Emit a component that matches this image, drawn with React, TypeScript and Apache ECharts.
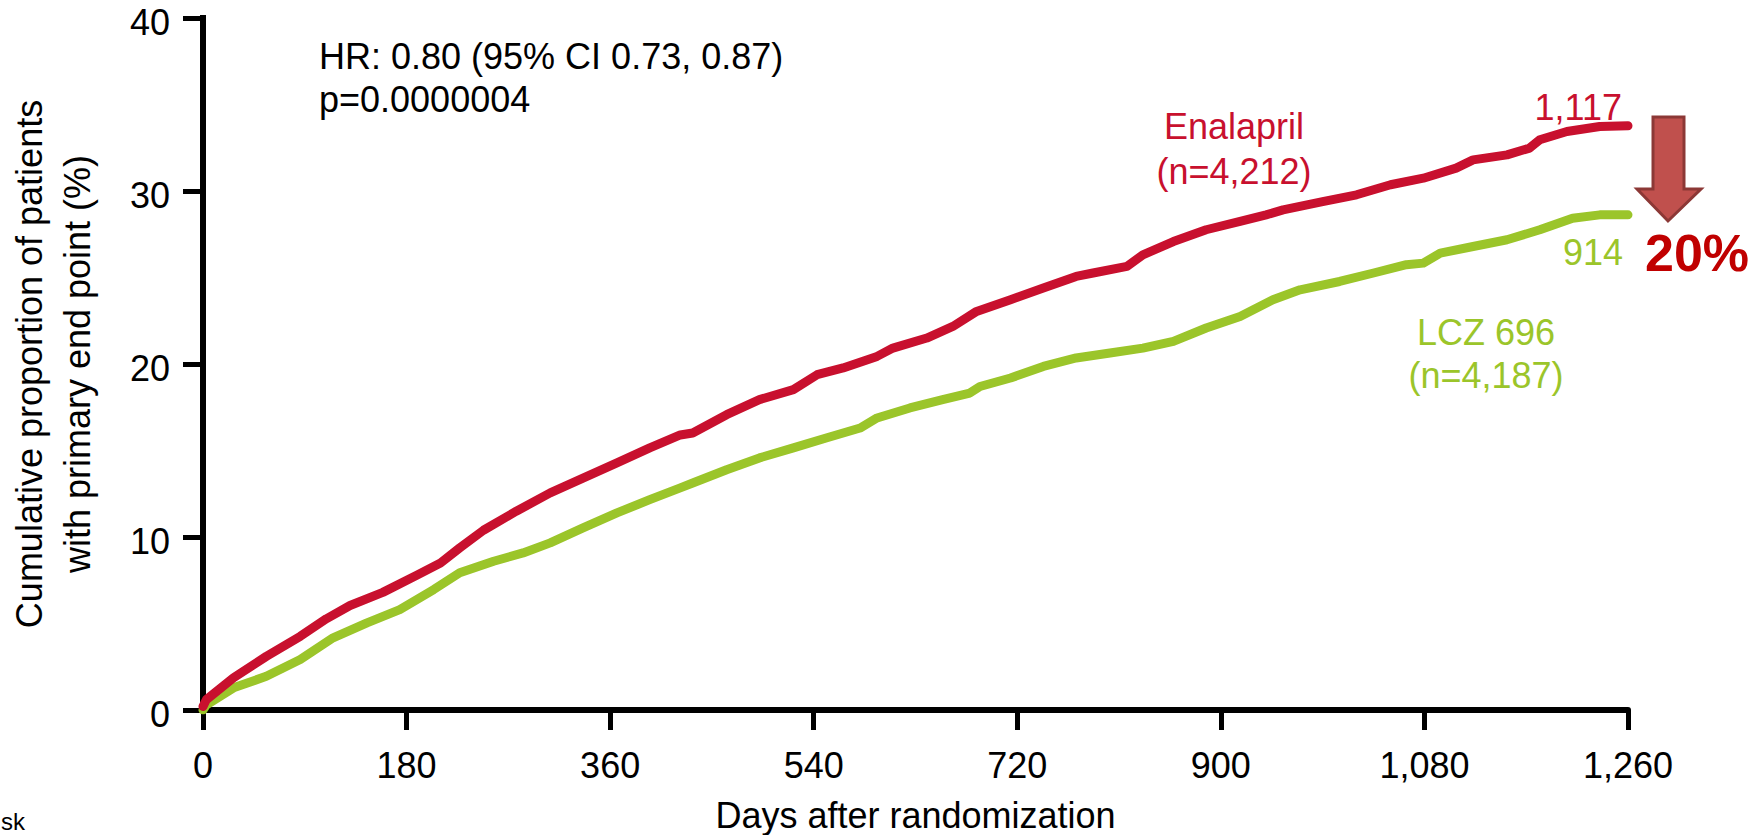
import { useEffect, useRef } from "react";
import * as echarts from "echarts";

// ---- data ----
const xTickValues = [0, 180, 360, 540, 720, 900, 1080, 1260];
const yTickValues = [0, 10, 20, 30, 40];

const enalaprilDays = [0, 3, 27, 56, 86, 109, 130, 159, 189, 210, 227, 248, 277, 307, 336, 366, 395, 422, 433, 463, 492, 522, 543, 566, 596, 610, 640, 663, 684, 714, 743, 772, 787, 817, 831, 858, 887, 917, 940, 955, 990, 1020, 1050, 1079, 1108, 1123, 1153, 1173, 1182, 1206, 1235, 1260];
const enalaprilPct = [0.2, 0.6, 1.86, 3.1, 4.26, 5.27, 6.04, 6.8, 7.79, 8.5, 9.37, 10.39, 11.49, 12.55, 13.4, 14.28, 15.15, 15.9, 16.01, 17.07, 17.94, 18.52, 19.38, 19.77, 20.44, 20.92, 21.5, 22.17, 23.04, 23.72, 24.39, 25.06, 25.26, 25.64, 26.31, 27.08, 27.76, 28.24, 28.62, 28.91, 29.39, 29.78, 30.36, 30.74, 31.32, 31.8, 32.09, 32.48, 32.96, 33.44, 33.73, 33.77];

const lczDays = [0, 3, 27, 56, 86, 115, 145, 174, 204, 227, 257, 283, 307, 336, 366, 395, 422, 433, 463, 492, 522, 551, 581, 596, 625, 654, 678, 687, 714, 743, 772, 802, 831, 858, 887, 917, 946, 970, 1005, 1035, 1064, 1079, 1094, 1123, 1153, 1182, 1211, 1235, 1260];
const lczPct = [0, 0.3, 1.28, 1.95, 2.92, 4.17, 5.04, 5.8, 6.96, 7.93, 8.6, 9.08, 9.66, 10.53, 11.39, 12.16, 12.84, 13.12, 13.89, 14.57, 15.15, 15.72, 16.3, 16.88, 17.46, 17.94, 18.32, 18.7, 19.19, 19.86, 20.35, 20.64, 20.92, 21.31, 22.08, 22.75, 23.71, 24.29, 24.77, 25.26, 25.74, 25.83, 26.41, 26.79, 27.18, 27.76, 28.43, 28.62, 28.62];

const seriesNames = ["Enalapril", "LCZ 696"];
const seriesN = ["(n=4,212)", "(n=4,187)"];
const finalEvents = ["1,117", "914"];
const hrText = "HR: 0.80 (95% CI 0.73, 0.87)";
const pText = "p=0.0000004";
const reductionText = "20%";
const xTitle = "Days after randomization";
const yTitle = "Cumulative proportion of patients\nwith primary end point (%)";
const cutText = "sk";

const RED = "#C8102E";
const GREEN = "#9BC52A";
const FONT = "'Liberation Sans', Arial, Helvetica, sans-serif";

export default function App() {
  const ref = useRef<HTMLDivElement>(null);

  useEffect(() => {
    if (!ref.current) return;
    const chart = echarts.init(ref.current, undefined, { renderer: "svg" });

    const redData = enalaprilDays.map((d, i) => [d, enalaprilPct[i]]);
    const greenData = lczDays.map((d, i) => [d, lczPct[i]]);

    const txt = (text: string, x: number, y: number, color: string, align: string, extra: any = {}) => ({
      type: "text",
      x,
      y,
      silent: true,
      style: {
        text,
        fill: color,
        font: `36px ${FONT}`,
        align,
        verticalAlign: "middle",
        ...extra,
      },
    });

    chart.setOption({
      animation: false,
      backgroundColor: "#ffffff",
      grid: {
        left: 203,
        right: 129,
        top: 18,
        bottom: 125,
        containLabel: false,
        outerBoundsMode: "none",
      },
      xAxis: {
        type: "value",
        min: 0,
        max: 1260,
        interval: 180,
        name: xTitle,
        nameLocation: "middle",
        nameGap: 90,
        nameTextStyle: { fontSize: 36, color: "#000", fontFamily: FONT, lineHeight: 30 },
        axisLine: { show: true, onZero: false, lineStyle: { color: "#000", width: 6 } },
        axisTick: { show: true, length: 20, lineStyle: { color: "#000", width: 5 } },
        axisLabel: {
          fontSize: 36,
          color: "#000",
          fontFamily: FONT,
          margin: 37,
          formatter: (v: number) => (xTickValues.includes(v) ? v.toLocaleString("en-US") : ""),
        },
        splitLine: { show: false },
      },
      yAxis: {
        type: "value",
        min: 0,
        max: 40,
        interval: 10,
        axisLine: { show: true, lineStyle: { color: "#000", width: 6, cap: "square" } },
        axisTick: { show: true, length: 20, lineStyle: { color: "#000", width: 5 } },
        axisLabel: {
          fontSize: 36,
          color: "#000",
          fontFamily: FONT,
          margin: 33,
          verticalAlign: "top",
          lineHeight: 8,
          formatter: (v: number) => (yTickValues.includes(v) ? String(v) : ""),
        },
        splitLine: { show: false },
      },
      series: [
        {
          name: seriesNames[1],
          type: "line",
          data: greenData,
          showSymbol: false,
          symbol: "none",
          lineStyle: { color: GREEN, width: 9, cap: "round", join: "round" },
          z: 2,
        },
        {
          name: seriesNames[0],
          type: "line",
          data: redData,
          showSymbol: false,
          symbol: "none",
          lineStyle: { color: RED, width: 9, cap: "round", join: "round" },
          z: 3,
        },
      ],
      graphic: [
        {
          type: "text",
          x: 53,
          y: 364,
          rotation: Math.PI / 2,
          silent: true,
          style: {
            text: yTitle,
            fill: "#000",
            font: `36px ${FONT}`,
            align: "center",
            verticalAlign: "middle",
            lineHeight: 48,
          },
        },
        txt(hrText, 319, 56, "#000", "left"),
        txt(pText, 319, 99, "#000", "left"),
        txt(seriesNames[0], 1234, 126, RED, "center"),
        txt(seriesN[0], 1234, 171, RED, "center"),
        txt(finalEvents[0], 1622, 107, RED, "right"),
        txt(finalEvents[1], 1623, 252, GREEN, "right"),
        txt(seriesNames[1], 1486, 332, GREEN, "center"),
        txt(seriesN[1], 1486, 375, GREEN, "center"),
        {
          type: "polygon",
          silent: true,
          shape: {
            points: [
              [1653, 117],
              [1684, 117],
              [1684, 189],
              [1701, 189],
              [1668, 221],
              [1637, 189],
              [1653, 189],
            ],
          },
          style: { fill: "#C0504D", stroke: "#8C3836", lineWidth: 3 },
        },
        {
          type: "text",
          x: 1645,
          y: 253,
          silent: true,
          style: {
            text: reductionText,
            fill: "#C00000",
            font: `bold 52px ${FONT}`,
            align: "left",
            verticalAlign: "middle",
          },
        },
        {
          type: "text",
          x: 1,
          y: 821,
          silent: true,
          style: {
            text: cutText,
            fill: "#000",
            font: `24px ${FONT}`,
            align: "left",
            verticalAlign: "middle",
          },
        },
      ],
    });

    return () => chart.dispose();
  }, []);

  return (
    <div
      ref={ref}
      style={{ position: "fixed", left: 0, top: 0, width: 1757, height: 835, background: "#fff" }}
    />
  );
}
